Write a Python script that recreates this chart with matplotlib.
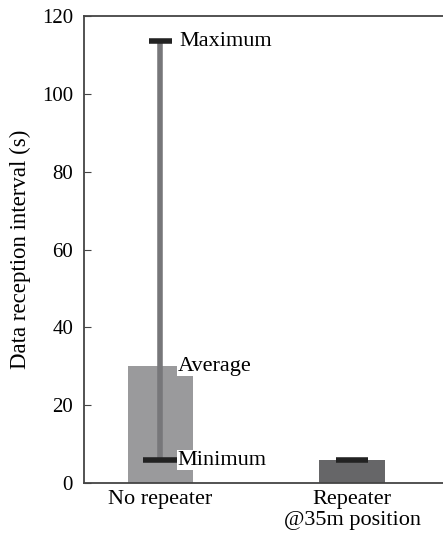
import numpy as np
import matplotlib.pyplot as plt

plt.rcParams['font.family'] = ['Liberation Serif', 'DejaVu Serif']

categories = ["No repeater", "Repeater\n@35m position"]
averages = [30.0, 5.9]
minimums = [5.9, 5.9]
maximums = [113.6, 5.9]
bar_colors = ["#9a9a9c", "#666668"]

fig = plt.figure(figsize=(4.43, 5.38), dpi=100)
ax = fig.add_axes([0.19, 0.102, 0.81, 0.868])

x = np.arange(len(categories))
ax.bar(x, averages, width=0.34, color=bar_colors, zorder=1)

# range line (only visible for the first scenario)
ax.vlines(x[0], minimums[0], maximums[0], color="#77777a", lw=4, zorder=2)
ax.hlines(maximums[0], x[0] - 0.06, x[0] + 0.06, color="#222222", lw=4, zorder=3)
ax.hlines(minimums[0], x[0] - 0.09, x[0] + 0.09, color="#222222", lw=4, zorder=3)
ax.hlines(minimums[1], x[1] - 0.085, x[1] + 0.085, color="#222222", lw=4, zorder=3)

box = dict(facecolor="white", edgecolor="none", pad=0.3)
ax.text(x[0] + 0.1, maximums[0], "Maximum", fontsize=16, va="center", ha="left")
ax.text(x[0] + 0.09, averages[0], "Average", fontsize=16, va="center", ha="left", bbox=box, zorder=4)
ax.text(x[0] + 0.09, minimums[0], "Minimum", fontsize=16, va="center", ha="left", bbox=box, zorder=4)

ax.set_xlim(-0.396, 1.474)
ax.set_ylim(0, 120)
ax.set_yticks(range(0, 121, 20))
ax.set_xticks(x)
ax.set_xticklabels(categories, fontsize=16, linespacing=1.15)
ax.tick_params(axis="y", direction="in", labelsize=15, length=5, pad=8, color="#444444")
ax.tick_params(axis="x", length=0, pad=5)
ax.set_ylabel("Data reception interval (s)", fontsize=16.5, labelpad=8)
for s in ax.spines.values():
    s.set_color("#444444")
    s.set_linewidth(1.3)
ax.spines["right"].set_visible(False)

fig.savefig("out.png", dpi=100)
